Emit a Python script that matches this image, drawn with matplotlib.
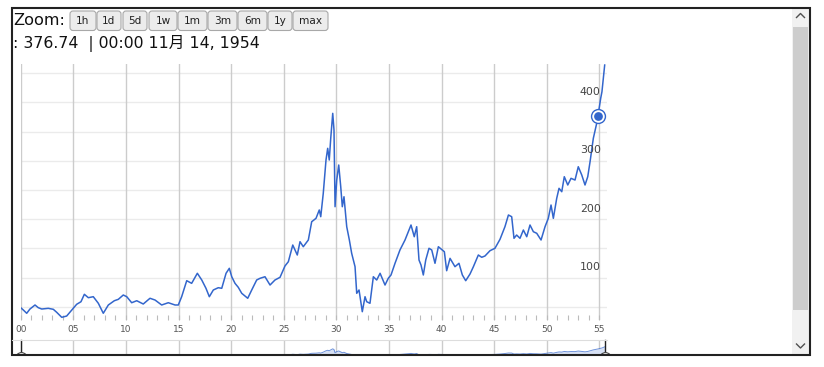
import matplotlib
matplotlib.use("Agg")
import matplotlib.pyplot as plt
from matplotlib.patches import FancyBboxPatch, Rectangle
from matplotlib.transforms import blended_transform_factory

W, H = 824, 367

# index values (year as decimal, level)
years = [1900.00, 1900.25, 1900.57, 1900.88, 1901.36, 1901.67, 1902.00, 1902.62,
         1903.10, 1903.42, 1903.90, 1904.37, 1904.85, 1905.32, 1905.73, 1906.05,
         1906.43, 1906.90, 1907.38, 1907.85, 1908.33, 1908.90, 1909.28, 1909.75,
         1910.08, 1910.55, 1911.03, 1911.65, 1912.29, 1912.77, 1913.40, 1914.03,
         1914.67, 1914.98, 1915.30, 1915.78, 1916.25, 1916.79, 1917.21, 1917.61,
         1917.93, 1918.31, 1918.78, 1919.11, 1919.52, 1919.83, 1920.06, 1920.37,
         1920.68, 1921.01, 1921.58, 1921.96, 1922.43, 1922.75, 1923.22, 1923.70,
         1924.17, 1924.65, 1925.12, 1925.44, 1925.86, 1926.29, 1926.55, 1926.86,
         1927.34, 1927.66, 1928.07, 1928.38, 1928.52, 1928.76, 1929.02, 1929.18,
         1929.33, 1929.47, 1929.66, 1929.78, 1929.88, 1930.04, 1930.23, 1930.42,
         1930.57, 1930.73, 1930.99, 1931.24, 1931.46, 1931.78, 1931.94, 1932.16,
         1932.47, 1932.73, 1932.89, 1933.20, 1933.52, 1933.84, 1934.16, 1934.63,
         1934.94, 1935.20, 1935.58, 1936.05, 1936.53, 1936.84, 1937.10, 1937.41,
         1937.64, 1937.86, 1938.05, 1938.27, 1938.50, 1938.81, 1939.07, 1939.38,
         1939.70, 1940.08, 1940.27, 1940.49, 1940.81, 1941.28, 1941.66, 1941.98,
         1942.30, 1942.71, 1943.03, 1943.50, 1943.82, 1944.13, 1944.61, 1945.08,
         1945.56, 1946.03, 1946.36, 1946.67, 1946.89, 1947.14, 1947.46, 1947.78,
         1948.10, 1948.41, 1948.73, 1949.05, 1949.46, 1949.84, 1950.15, 1950.41,
         1950.63, 1950.95, 1951.17, 1951.43, 1951.67, 1952.00, 1952.31, 1952.69,
         1953.00, 1953.33, 1953.64, 1953.90, 1954.12, 1954.43, 1954.75, 1954.87,
         1955.13, 1955.25, 1955.51]
values = [48.5, 44.5, 38.9, 46.2, 53.1, 48.5, 46.2, 47.4,
          45.7, 40.6, 32.0, 34.2, 44.5, 54.3, 58.7, 71.4,
          65.6, 67.3, 56.0, 38.9, 53.1, 60.4, 62.8, 70.2,
          67.3, 57.0, 60.4, 54.8, 64.6, 61.6, 53.1, 57.0,
          53.1, 53.1, 67.3, 94.7, 90.2, 107.4, 95.9, 81.7,
          67.3, 78.8, 82.7, 81.7, 107.4, 115.9, 101.5, 90.2,
          83.4, 73.1, 64.6, 78.8, 95.9, 98.8, 101.5, 87.3,
          95.9, 100.5, 119.9, 127.2, 155.8, 138.7, 161.5, 152.9,
          164.4, 195.7, 201.5, 215.8, 204.3, 244.3, 301.4, 321.4,
          301.4, 338.5, 381.3, 352.7, 221.4, 267.1, 292.8, 255.7,
          221.4, 238.5, 187.2, 164.4, 141.6, 118.7, 73.1, 78.8,
          41.6, 67.3, 58.7, 56.0, 101.5, 95.9, 107.4, 87.3,
          98.8, 104.5, 124.5, 147.3, 164.4, 178.6, 190.1, 170.0,
          187.2, 130.1, 121.6, 104.5, 130.1, 150.2, 147.3, 124.5,
          152.9, 147.3, 144.3, 111.8, 133.0, 118.7, 124.5, 104.5,
          94.7, 106.2, 118.7, 138.7, 134.8, 137.0, 146.1, 150.2,
          165.6, 187.2, 207.2, 204.3, 167.3, 172.9, 167.3, 181.5,
          170.0, 190.1, 178.6, 175.9, 164.4, 187.2, 201.5, 224.3,
          201.5, 235.8, 252.9, 247.1, 272.8, 258.6, 270.0, 267.1,
          289.9, 275.7, 258.6, 272.8, 298.5, 338.5, 364.2, 376.74,
          407.0, 418.3, 464.0]

sel_year = 1954.87
sel_value = 376.74
readout = ": 376.74  | 00:00 11月 14, 1954"
zoom_buttons = ["1h", "1d", "5d", "1w", "1m", "3m", "6m", "1y", "max"]
x_ticks = list(range(1900, 1956, 5))
x_tick_labels = ["00", "05", "10", "15", "20", "25", "30", "35", "40", "45", "50", "55"]
y_grid = [50, 100, 150, 200, 250, 300, 350, 400, 450]
y_labels = [100, 200, 300, 400]

BLUE = "#3366cc"


def box(x0, y0, x1, y1):
    # pixel box (top-left origin) -> figure fraction rect
    return [x0 / W, 1 - y1 / H, (x1 - x0) / W, (y1 - y0) / H]


fig = plt.figure(figsize=(W / 100, H / 100), dpi=100)
fig.patch.set_facecolor("white")

# main chart
ax = fig.add_axes(box(20.7, 64, 607, 320))
ax.set_xlim(1900, 1955.73)
ax.set_ylim(27.4, 465.8)
for s in ax.spines.values():
    s.set_visible(False)
for v in y_grid:
    ax.axhline(v, color="#ebebeb", lw=1, zorder=0)
for x in x_ticks:
    ax.axvline(x, color="#cccccc", lw=1, zorder=0)
ax.plot(years, values, color=BLUE, lw=1.1, solid_joinstyle="round", zorder=2)
ax.plot(sel_year, sel_value, "o", ms=10, mfc="white", mec=BLUE, mew=1.0, zorder=3)
ax.plot(sel_year, sel_value, "o", ms=6.3, color=BLUE, mew=0, zorder=4)

ax.set_xticks(x_ticks)
ax.set_xticklabels(x_tick_labels)
ax.set_xticks(range(1900, 1956), minor=True)
ax.tick_params(axis="x", which="both", direction="in", length=3.6, width=0.8,
               color="#bbbbbb", pad=3.5, labelsize=6.5, labelcolor="#555555")
ax.set_yticks([])
ytr = blended_transform_factory(ax.transAxes, ax.transData)
for v in y_labels:
    ax.annotate(str(v), xy=(1, v), xycoords=ytr, xytext=(-4.5, 4),
                textcoords="offset points", ha="right", va="bottom",
                fontsize=7.9, color="#444444")

# overview strip under the axis
ov = fig.add_axes(box(20.7, 340, 607, 355))
ov.set_xlim(1900, 1955.73)
ov.set_ylim(125, 750)
ov.axis("off")
for x in x_ticks:
    ov.axvline(x, color="#cccccc", lw=1, zorder=0)
ov.fill_between(years, values, 0, color="#d6e0f4", lw=0, zorder=1)
ov.plot(years, values, color=BLUE, lw=0.7, alpha=0.7, zorder=2)
otr = blended_transform_factory(ov.transData, ov.transAxes)
for hx in (years[0], years[-1]):
    ov.plot([hx, hx], [1.0, 0.12], color="#222222", lw=1, transform=otr,
            clip_on=False, zorder=3)
    ov.plot(hx, -0.2, "o", ms=8.5, mfc="white", mec="#444444", mew=0.8,
            transform=otr, clip_on=False, zorder=3)

# page chrome on top
ui = fig.add_axes([0, 0, 1, 1], zorder=10)
ui.set_xlim(0, W)
ui.set_ylim(H, 0)
ui.axis("off")
ui.patch.set_visible(False)

ui.add_patch(Rectangle((0, 356), W, H - 356, fc="white", ec="none"))
ui.plot([12, 607], [340, 340], color="#dddddd", lw=0.8)

# scrollbar
ui.add_patch(Rectangle((792, 9), 17, 345, fc="#f1f1f1", ec="none"))
ui.add_patch(Rectangle((793, 27), 15, 283, fc="#cdcdcd", ec="none"))
ui.plot([796.5, 800.5, 804.5], [17.5, 13.5, 17.5], color="#505050", lw=1)
ui.plot([796.5, 800.5, 804.5], [344, 348, 344], color="#505050", lw=1)

# frame
ui.add_patch(Rectangle((12, 8), 798, 347, fc="none", ec="#222222", lw=1.5))

# header
ui.text(13, 20.5, "Zoom:", ha="left", va="center", fontsize=11.6, color="#111111")
bx = [70, 97, 123, 149, 178, 208, 238, 268, 293]
bw = [26, 24, 24, 28, 29, 29, 29, 24, 35]
for lab, x0, w in zip(zoom_buttons, bx, bw):
    ui.add_patch(FancyBboxPatch((x0, 11), w, 19.5,
                                boxstyle="round,pad=0,rounding_size=3",
                                fc="#ececec", ec="#a8a8a8", lw=0.8))
    ui.text(x0 + w / 2, 21, lab, ha="center", va="center", fontsize=7.6,
            color="#222222")
ui.text(13, 44, readout, ha="left", va="center", fontsize=11.3, color="#111111",
        family=["DejaVu Sans", "Noto Sans CJK JP"])

fig.savefig("out.png", dpi=100, facecolor="white")
